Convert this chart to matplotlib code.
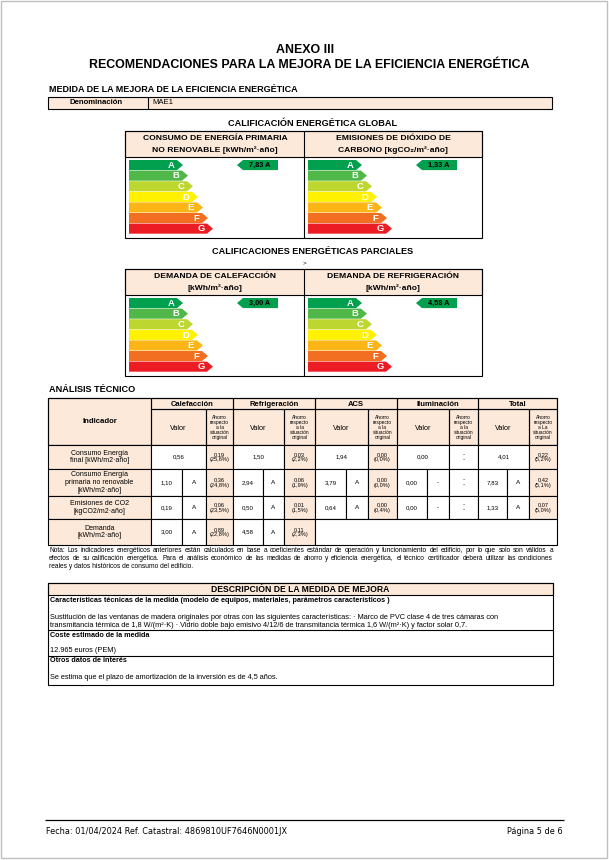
import matplotlib
matplotlib.use('Agg')
import matplotlib.pyplot as plt
from matplotlib.patches import Rectangle, Polygon

# ---------------- data ----------------
rating_letters = ['A', 'B', 'C', 'D', 'E', 'F', 'G']
rating_colors = ['#00A04E', '#50B848', '#BED630', '#FFF100', '#FBB516', '#F26F22', '#EC1C24']

global_titles = [("CONSUMO DE ENERGÍA PRIMARIA", "NO RENOVABLE [kWh/m²·año]"),
                 ("EMISIONES DE DIÓXIDO DE", "CARBONO [kgCO₂/m²·año]")]
global_values = [7.83, 1.33]
global_ratings = ['A', 'A']

partial_titles = [("DEMANDA DE CALEFACCIÓN", "[kWh/m²·año]"),
                  ("DEMANDA DE REFRIGERACIÓN", "[kWh/m²·año]")]
partial_values = [3.00, 4.58]
partial_ratings = ['A', 'A']

indicadores = ["Consumo Energía\nfinal [kWh/m2·año]",
               "Consumo Energía\nprimaria no renovable\n[kWh/m2·año]",
               "Emisiones de CO2\n[kgCO2/m2·año]",
               "Demanda\n[kWh/m2·año]"]
servicios = ["Calefacción", "Refrigeración", "ACS", "Iluminación", "Total"]

calef_valor = [0.56, 1.10, 0.19, 3.00]
calef_letra = [None, 'A', 'A', 'A']
calef_ahorro = [0.19, 0.36, 0.06, 0.89]
calef_pct = [25.6, 24.8, 23.5, 22.8]

refrig_valor = [1.50, 2.94, 0.50, 4.58]
refrig_letra = [None, 'A', 'A', 'A']
refrig_ahorro = [0.03, 0.06, 0.01, 0.11]
refrig_pct = [2.2, 1.9, 1.5, 2.3]

acs_valor = [1.94, 3.79, 0.64]
acs_letra = [None, 'A', 'A']
acs_ahorro = [0.00, 0.00, 0.00]
acs_pct = [0.0, 0.0, 0.4]

ilum_valor = [0.00, 0.00, 0.00]
ilum_letra = [None, '-', '-']
ilum_ahorro = [None, None, None]
ilum_pct = [None, None, None]

total_valor = [4.01, 7.83, 1.33]
total_letra = [None, 'A', 'A']
total_ahorro = [0.22, 0.42, 0.07]
total_pct = [5.2, 5.1, 5.0]

series = [(calef_valor, calef_letra, calef_ahorro, calef_pct),
          (refrig_valor, refrig_letra, refrig_ahorro, refrig_pct),
          (acs_valor, acs_letra, acs_ahorro, acs_pct),
          (ilum_valor, ilum_letra, ilum_ahorro, ilum_pct),
          (total_valor, total_letra, total_ahorro, total_pct)]

nota = ["Nota: Los indicadores energéticos anteriores están calculados en base a coeficientes estándar de operación y funcionamiento del edificio, por lo que solo son válidos a",
        "efectos de su calificación energética. Para el análisis económico de las medidas de ahorro y eficiencia energética, el técnico certificador deberá utilizar las condiciones",
        "reales y datos históricos de consumo del edificio."]

caracteristicas = ["Sustitución de las ventanas de madera originales por otras con las siguientes características: · Marco de PVC clase 4 de tres cámaras con",
                   "transmitancia térmica de 1,8 W/(m²·K) · Vidrio doble bajo emisivo 4/12/6 de transmitancia térmica 1,6 W/(m²·K) y factor solar 0,7."]
coste = "12.965 euros (PEM)"
otros = "Se estima que el plazo de amortización de la inversión es de 4,5 años."
footer_left = "Fecha: 01/04/2024 Ref. Catastral: 4869810UF7646N0001JX"
footer_right = "Página 5 de 6"

# ---------------- setup ----------------
FAM = ['Liberation Sans', 'DejaVu Sans']
PEACH = '#FDE9D9'
W, H = 609, 860
fig = plt.figure(figsize=(W / 100, H / 100), dpi=100)
ax = fig.add_axes([0, 0, 1, 1])
ax.set_xlim(0, W)
ax.set_ylim(H, 0)
ax.axis('off')
LW = 0.8


def fmt(v):
    return f"{v:.2f}".replace('.', ',')


def T(x, y, s, size, bold=False, ha='center', va='center', color='black', family=None, ls=1.15):
    return ax.text(x, y, s, fontsize=size, fontweight='bold' if bold else 'normal',
                   ha=ha, va=va, color=color, family=family or FAM, linespacing=ls)


def R(x0, y0, x1, y1, fc='none', ec='black', lw=LW, z=1):
    ax.add_patch(Rectangle((x0, y0), x1 - x0, y1 - y0, facecolor=fc, edgecolor=ec, lw=lw, zorder=z))


def L(x0, y0, x1, y1, lw=LW, color='black'):
    ax.plot([x0, x1], [y0, y1], color=color, lw=lw, solid_capstyle='butt', zorder=3)


# page border
R(1, 1, 607, 858, ec='#BFBFBF', lw=1.0)

# titles
T(305, 50, "ANEXO III", 8.9, bold=True)
T(309, 65, "RECOMENDACIONES PARA LA MEJORA DE LA EFICIENCIA ENERGÉTICA", 8.9, bold=True)
T(49, 89, "MEDIDA DE LA MEJORA DE LA EFICIENCIA ENERGÉTICA", 6.5, bold=True, ha='left')

# denominacion
R(48, 97, 552, 109, fc=PEACH)
L(148, 97, 148, 109)
T(96, 103, "Denominación", 5.6, bold=True)
T(152, 103, "MAE1", 5.6, ha='left')


def energy_panel(x0, ytop, value, rating):
    bar_h = 10.6
    for i, (let, col) in enumerate(zip(rating_letters, rating_colors)):
        y0 = ytop + i * bar_h
        y1 = y0 + bar_h - 0.5
        w = 48 + 5 * i
        ax.add_patch(Polygon([(x0, y0), (x0 + w, y0), (x0 + w + 6, (y0 + y1) / 2),
                              (x0 + w, y1), (x0, y1)], closed=True, facecolor=col,
                             edgecolor='none', zorder=2))
        T(x0 + w - 6, (y0 + y1) / 2 + 0.3, let, 6.8, bold=True, color='white')
    k = rating_letters.index(rating)
    y0 = ytop + k * bar_h
    y1 = y0 + bar_h - 0.5
    tip = x0 + 108
    end = x0 + 149
    ax.add_patch(Polygon([(tip, (y0 + y1) / 2), (tip + 6, y0), (end, y0), (end, y1), (tip + 6, y1)],
                         closed=True, facecolor=rating_colors[k], edgecolor='none', zorder=2))
    T((tip + 6 + end) / 2 - 1, (y0 + y1) / 2, f"{fmt(value)} {rating}", 5.3, bold=True)


def rating_box(ytop, yhead, ybot, titles, values, ratings):
    R(125, ytop, 482, yhead, fc=PEACH)
    R(125, ytop, 482, ybot)
    L(304, ytop, 304, ybot)
    for cx, (t1, t2) in zip([215, 393], titles):
        T(cx, ytop + 8, t1, 6.1, bold=True)
        T(cx, ytop + 19, t2, 6.1, bold=True)
    for x0, v, r in zip([129, 308], values, ratings):
        energy_panel(x0, yhead + 3, v, r)


T(313, 124, "CALIFICACIÓN ENERGÉTICA GLOBAL", 6.6, bold=True)
rating_box(131, 157, 238, global_titles, global_values, global_ratings)

T(313, 252, "CALIFICACIONES ENERGÉTICAS PARCIALES", 6.6, bold=True)
T(304, 263, ">", 4.5)
rating_box(269, 295, 376, partial_titles, partial_values, partial_ratings)

# ---------------- technical table ----------------
T(49, 390, "ANÁLISIS TÉCNICO", 6.6, bold=True, ha='left')
ytop, ysub, yhead = 398, 409, 445
rows = [445, 469, 496, 519, 545]
x_ind = (48, 151)
groups = [(151, 182, 206, 233), (233, 263, 284, 315), (315, 346, 368, 397),
          (397, 427, 449, 478), (478, 507, 529, 557)]

# header fill
R(48, ytop, 557, yhead, fc=PEACH)
R(x_ind[0], ytop, x_ind[1], yhead)
T(99.5, (ytop + yhead) / 2, "Indicador", 5.6, bold=True)
ahorro_txt = "Ahorro\nrespecto\na la\nsituación\noriginal"
for gi, (name, (gx0, gx1, gx2, gx3)) in enumerate(zip(servicios, groups)):
    R(gx0, ytop, gx3, ysub)
    R(gx0, ysub, gx2, yhead)
    R(gx2, ysub, gx3, yhead)
    T((gx0 + gx3) / 2, (ytop + ysub) / 2 + 0.5, name, 5.5, bold=True)
    T((gx0 + gx2) / 2, (ysub + yhead) / 2 + 1, "Valor", 5.2)
    txt = ahorro_txt.replace("a la", "a La") if name == "Total" else ahorro_txt
    T((gx2 + gx3) / 2, (ysub + yhead) / 2 + 0.5, txt, 3.5, ls=1.0)

for ri in range(4):
    y0, y1 = rows[ri], rows[ri + 1]
    ym = (y0 + y1) / 2
    R(x_ind[0], y0, x_ind[1], y1, fc=PEACH)
    T(99.5, ym, indicadores[ri], 5.0, ls=1.15)
    for gi, (gx0, gx1, gx2, gx3) in enumerate(groups):
        valor, letra, ahorro, pct = series[gi]
        if ri >= len(valor):
            continue
        if letra[ri] is None:
            R(gx0, y0, gx2, y1, fc='white')
            T((gx0 + gx2) / 2, ym, fmt(valor[ri]), 4.4)
        else:
            R(gx0, y0, gx1, y1, fc='white')
            R(gx1, y0, gx2, y1, fc='white')
            T((gx0 + gx1) / 2, ym, fmt(valor[ri]), 4.4)
            T((gx1 + gx2) / 2, ym, letra[ri], 4.6)
        if ahorro[ri] is None:
            R(gx2, y0, gx3, y1, fc='white')
            T((gx2 + gx3) / 2, ym, "-\n-", 4.6, ls=0.9)
        else:
            R(gx2, y0, gx3, y1, fc=PEACH)
            T((gx2 + gx3) / 2, ym, f"{fmt(ahorro[ri])}\n({pct[ri]:.1f}%)".replace('.', ','), 4.1, ls=1.1)
# empty merged cell in demand row
R(groups[2][0], rows[3], groups[4][3], rows[4], fc='white')

# ---------------- note (justified) ----------------
renderer = fig.canvas.get_renderer()


def justify(line, x0, x1, y, size, bold=False):
    words = line.split(' ')
    texts = [T(0, y, w, size, bold=bold, ha='left') for w in words]
    widths = [t.get_window_extent(renderer).width for t in texts]
    gap = (x1 - x0 - sum(widths)) / (len(words) - 1)
    xx = x0
    for t, w in zip(texts, widths):
        t.set_x(xx)
        xx += w + gap


NOTE_FS = 4.8
for i, line in enumerate(nota):
    y = 550 + i * 8.5
    if i == len(nota) - 1:
        T(49, y, line, NOTE_FS, ha='left')
    else:
        justify(line, 49, 553, y, NOTE_FS)

# ---------------- description ----------------
R(48, 583, 553, 595, fc=PEACH)
R(48, 583, 553, 685)
L(48, 630, 553, 630)
L(48, 656, 553, 656)
DFS = 5.3
T(300, 589, "DESCRIPCIÓN DE LA MEDIDA DE MEJORA", 6.2, bold=True)
T(50, 600, "Características técnicas de la medida (modelo de equipos, materiales, parámetros característicos )", 5.2, bold=True, ha='left')
T(50, 617.5, caracteristicas[0], DFS, ha='left')
T(50, 625.5, caracteristicas[1], DFS, ha='left')
T(50, 635.5, "Coste estimado de la medida", 5.2, bold=True, ha='left')
T(50, 651, coste, DFS, ha='left')
T(50, 661, "Otros datos de interés", 5.2, bold=True, ha='left')
T(50, 677.5, otros, DFS, ha='left')

# ---------------- footer ----------------
L(45, 820, 564, 820, lw=0.9)
T(46, 831, footer_left, 5.9, ha='left', family=['DejaVu Sans'])
T(563, 831, footer_right, 5.9, ha='right', family=['DejaVu Sans'])

fig.savefig('out.png', dpi=100)
